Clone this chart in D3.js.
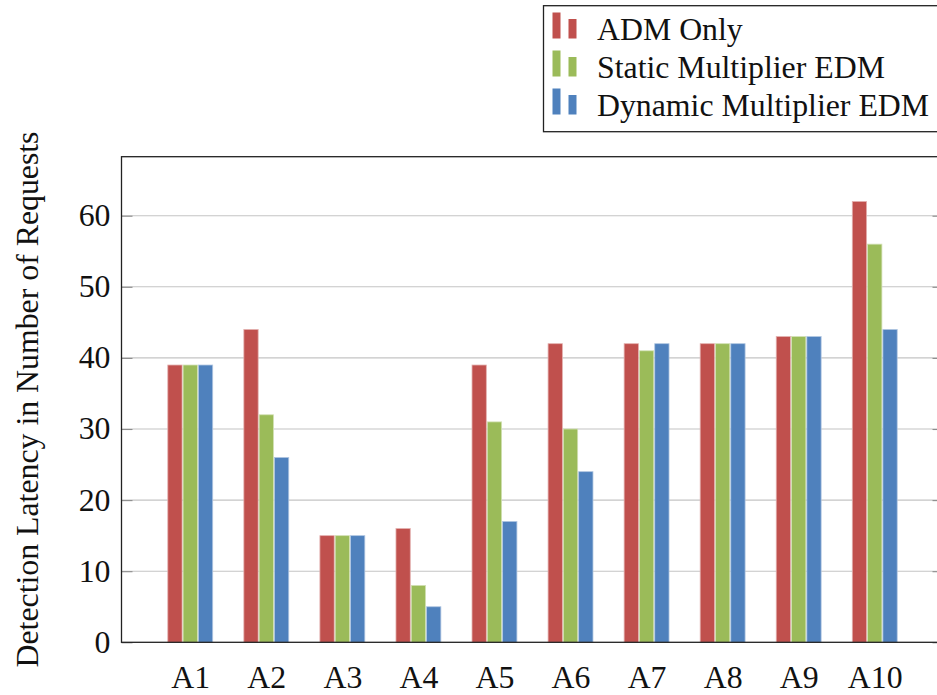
<!DOCTYPE html>
<html>
<head>
<meta charset="utf-8">
<script src="https://cdn.jsdelivr.net/npm/d3@7"></script>
</head>
<body style="margin:0">
<svg id="chart" width="937" height="695"></svg>
<script>
// Benchmarks along the x axis
const categories = ["A1", "A2", "A3", "A4", "A5", "A6", "A7", "A8", "A9", "A10"];

// Detection latency (number of requests) per method
const admOnly       = [39, 44, 15, 16, 39, 42, 42, 42, 43, 62];
const staticEdm     = [39, 32, 15,  8, 31, 30, 41, 42, 43, 56];
const dynamicEdm    = [39, 26, 15,  5, 17, 24, 42, 42, 43, 44];

const seriesNames  = ["ADM Only", "Static Multiplier EDM", "Dynamic Multiplier EDM"];
const seriesValues = [admOnly, staticEdm, dynamicEdm];
const seriesColors = ["#c0504d", "#9bbb59", "#4f81bd"];

const yTicks = [0, 10, 20, 30, 40, 50, 60];
const yLabel = "Detection Latency in Number of Requests";

const serif = '"Liberation Serif"';
const svg = d3.select("#chart");
const fontSize = 31.8;

// Plot frame
const frame = { left: 121.5, right: 943.5, top: 156.7, bottom: 642.3 };

// Group positions 1..10 with padding on both sides
const x = d3.scaleLinear()
  .domain([0.096, categories.length + 0.904])
  .range([frame.left, frame.right]);
const y = d3.scaleLinear()
  .domain([0, 68.3])
  .range([frame.bottom, frame.top]);

const barW = 14.3;
const barStep = 15.3;

// Grid lines
const g = svg.append("g");
g.selectAll("line.grid")
  .data(yTicks.filter(t => t > 0))
  .join("line")
  .attr("class", "grid")
  .attr("x1", frame.left).attr("x2", frame.right)
  .attr("y1", d => y(d)).attr("y2", d => y(d))
  .attr("stroke", "#c4c4c4").attr("stroke-width", 1.1);

// Bars
const bars = [];
categories.forEach((c, i) => {
  seriesValues.forEach((vals, s) => {
    bars.push({ cat: c, i, s, v: vals[i] });
  });
});
g.selectAll("rect.bar")
  .data(bars)
  .join("rect")
  .attr("class", "bar")
  .attr("x", d => x(d.i + 1) + (d.s - 1) * barStep - barW / 2)
  .attr("width", barW)
  .attr("y", d => y(d.v))
  .attr("height", d => y(0) - y(d.v))
  .attr("fill", d => seriesColors[d.s])
  .attr("stroke", d => d3.interpolateRgb(seriesColors[d.s], "#ffffff")(0.55))
  .attr("stroke-width", 0.8);

// Axes: y ticks inside on both sides
const yAxisL = d3.axisRight(y).tickValues(yTicks).tickSize(11).tickFormat("");
const yAxisR = d3.axisLeft(y).tickValues(yTicks).tickSize(11).tickFormat("");
[ [yAxisL, frame.left], [yAxisR, frame.right] ].forEach(([ax, px]) => {
  const a = svg.append("g").attr("transform", `translate(${px},0)`).call(ax);
  a.select(".domain").remove();
  a.selectAll(".tick line").attr("stroke", "#8c8c8c").attr("stroke-width", 1.1);
});

// Y tick labels
svg.append("g").selectAll("text")
  .data(yTicks)
  .join("text")
  .attr("x", frame.left - 11)
  .attr("y", d => y(d))
  .attr("dy", "0.33em")
  .attr("text-anchor", "end")
  .style("font-family", serif)
  .attr("font-size", fontSize)
  .attr("fill", "#111")
  .text(d => d);

// X tick labels
const xAxis = d3.axisBottom(x).tickValues(d3.range(1, categories.length + 1))
  .tickSize(0).tickPadding(0).tickFormat(d => categories[d - 1]);
const xa = svg.append("g").attr("transform", `translate(0,${frame.bottom})`).call(xAxis);
xa.select(".domain").remove();
xa.selectAll(".tick text")
  .attr("y", 46).attr("dy", null)
  .style("font-family", serif)
  .attr("font-size", fontSize)
  .attr("fill", "#111");

// Frame
svg.append("rect")
  .attr("x", frame.left).attr("y", frame.top)
  .attr("width", frame.right - frame.left).attr("height", frame.bottom - frame.top)
  .attr("fill", "none").attr("stroke", "#222").attr("stroke-width", 1.3);

// Y axis title
svg.append("text")
  .attr("transform", `translate(38,${(frame.top + frame.bottom) / 2}) rotate(-90)`)
  .attr("text-anchor", "middle")
  .style("font-family", serif)
  .attr("font-size", fontSize)
  .attr("fill", "#111")
  .text(yLabel);

// Legend
const leg = svg.append("g");
leg.append("rect")
  .attr("x", 543.5).attr("y", 5.7)
  .attr("width", 420).attr("height", 126)
  .attr("fill", "#fff").attr("stroke", "#222").attr("stroke-width", 1.3);
const rowBase = [38.5, 76.5, 114.5];
seriesNames.forEach((name, s) => {
  const base = rowBase[s];
  leg.append("rect")
    .attr("x", 552.5).attr("y", base - 26).attr("width", 8).attr("height", 26)
    .attr("fill", seriesColors[s]);
  leg.append("rect")
    .attr("x", 568.5).attr("y", base - 19.5).attr("width", 8).attr("height", 19.5)
    .attr("fill", seriesColors[s]);
  leg.append("text")
    .attr("x", 597).attr("y", base + 1.5)
    .style("font-family", serif)
    .attr("font-size", fontSize)
    .attr("fill", "#111")
    .text(name);
});
</script>
</body>
</html>
